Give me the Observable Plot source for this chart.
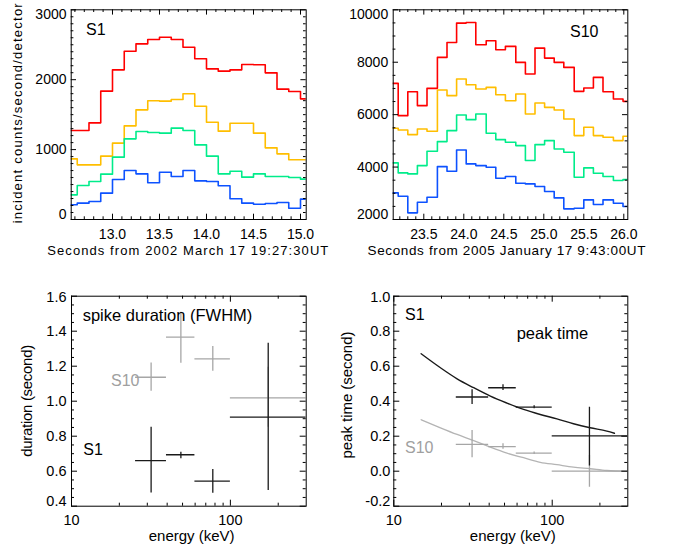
<!DOCTYPE html>
<html><head><meta charset="utf-8">
<script src="https://cdn.jsdelivr.net/npm/d3@7"></script>
<script src="https://cdn.jsdelivr.net/npm/@observablehq/plot@0.6"></script>
<style>
html,body{margin:0;padding:0;background:#fff;}
#root{position:relative;width:675px;height:548px;overflow:hidden;font-family:"Liberation Sans",Arial,Helvetica,sans-serif;background:#fff;}
#root > svg{position:absolute;}
</style></head><body><div id="root"></div>
<script>
// ---------- Top-left: S1 light curves (counts/s/detector), 0.125 s bins ----------
const tlEdges = [12.5,12.625,12.75,12.875,13.0,13.125,13.25,13.375,13.5,13.625,13.75,13.875,14.0,14.125,14.25,14.375,14.5,14.625,14.75,14.875,15.0,15.125];
const tlRed    = [1273,1273,1383,1836,2141,2408,2513,2575,2608,2575,2465,2299,2155,2122,2141,2217,2213,2098,1865,1831,1726];
const tlOrange = [868,782,782,906,1092,1340,1569,1698,1693,1717,1798,1621,1392,1264,1378,1378,1235,1025,939,854,854];
const tlGreen  = [353,486,544,649,892,1154,1259,1245,1235,1307,1273,1068,906,653,691,606,653,615,615,601,577];
const tlBlue   = [210,234,258,377,572,701,653,525,677,615,701,553,544,482,296,234,219,229,243,162,291];
const tlYTicks = [0,1000,2000,3000];
const tlXTicks = [13.0,13.5,14.0,14.5,15.0];

// ---------- Top-right: S10 light curves ----------
const trEdges = [23.06,23.18,23.30,23.42,23.54,23.67,23.79,23.91,24.03,24.15,24.28,24.40,24.52,24.65,24.77,24.89,25.01,25.13,25.25,25.38,25.50,25.62,25.74,25.87,25.99,26.11];
const trRed    = [7194,5962,6876,6343,7003,8184,8755,9492,9517,8666,8819,8476,8603,7994,7549,8539,8158,7994,7803,6889,7016,7422,6876,6597,6508];
const trOrange = [5479,5416,5238,5454,5365,6940,6724,7359,7143,6978,7041,6762,6533,6787,6025,6444,6279,6178,5835,5200,5517,5200,5137,5010,5175];
const trGreen  = [4159,3778,3740,4057,4603,4971,5390,5987,5809,6025,5289,5048,4946,4819,4248,4857,5010,4692,4565,3613,3968,3765,3638,3486,3524];
const trBlue   = [3016,2889,2254,2660,2851,4019,3841,4654,4121,4057,3994,3575,3638,3384,3359,3257,3067,2825,2406,2432,2749,2571,2749,2622,2495];
const trYTicks = [2000,4000,6000,8000,10000];
const trXTicks = [23.5,24.0,24.5,25.0,25.5,26.0];

// ---------- Bottom-left: spike duration (FWHM) ----------
const blE    = [31.7, 48.8, 77.5, 173];
const blElo  = [25.3, 39.6, 59.8, 100];
const blEhi  = [39.6, 59.8, 100, 300];
const blS1   = [0.661, 0.694, 0.543, 0.909];
const blS1lo = [0.476, 0.671, 0.474, 0.490];
const blS1hi = [0.851, 0.709, 0.610, 1.331];
const blS10   = [1.137, 1.366, 1.242, 1.019];
const blS10lo = [1.057, 1.217, 1.171, 0.851];
const blS10hi = [1.219, 1.509, 1.313, 1.194];
const blYTicks = [0.4,0.6,0.8,1.0,1.2,1.4,1.6];

// ---------- Bottom-right: peak time ----------
const brE    = [31.2, 48.9, 76.9, 171.8];
const brElo  = [24.8, 39.7, 59.3, 100];
const brEhi  = [39.7, 59.3, 100, 300];
const brS1   = [0.424, 0.477, 0.366, 0.202];
const brS1lo = [0.381, 0.461, 0.357, 0.030];
const brS1hi = [0.465, 0.494, 0.374, 0.366];
const brS10   = [0.153, 0.141, 0.103, 0.000];
const brS10lo = [0.077, 0.126, 0.095, -0.091];
const brS10hi = [0.233, 0.157, 0.110, 0.090];
const fitE1  = [14.88,19.70,25.09,31.92,40.68,51.83,65.96,84.02,107.1,136.2,173.5,221.2,247.0];
const fitS1  = [0.671,0.591,0.528,0.477,0.429,0.389,0.353,0.324,0.299,0.271,0.248,0.229,0.217];
const fitE10 = [14.88,19.70,25.09,31.92,40.68,51.83,65.96,84.02,107.1,136.2,173.5,221.2,300];
const fitS10 = [0.294,0.248,0.210,0.175,0.137,0.103,0.077,0.051,0.037,0.023,0.014,0.004,0.000];
const brYTicks = [-0.2,0.0,0.2,0.4,0.6,0.8,1.0];
const logXTicks = [10,100];

const COLORS = {red:"#ff0000", orange:"#ffbe00", green:"#00ec8a", blue:"#0d52ff"};
const GRAY = "#a6a6a6", BLACK = "#1a1a1a";

const root = document.getElementById("root");

function steps(edges, vals){
  const rows = vals.map((v,i)=>({t:edges[i], v}));
  rows.push({t:edges[vals.length], v:vals[vals.length-1]});
  return rows;
}
function crosses(E, lo, hi, V, vlo, vhi){
  return E.map((e,i)=>({e, elo:lo[i], ehi:hi[i], v:V[i], vlo:vlo[i], vhi:vhi[i]}));
}
function range(a,b,s){ const out=[]; for(let k=0;;k++){const v=+(a+k*s).toFixed(6); if(v>b+1e-9)break; out.push(v);} return out; }

function panel(o){
  const innerW = o.width - o.mL - o.mR, innerH = o.height - o.mT - o.mB;
  const yMinor = o.yMinor.filter(v=>!o.yTicks.some(t=>Math.abs(t-v)<1e-9));
  const xMinor = o.xMinor.filter(v=>!o.xTicks.some(t=>Math.abs(t-v)<1e-9));
  const yIn = o.yTicks.slice(1,-1), yTop=[o.yTicks[o.yTicks.length-1]], yBot=[o.yTicks[0]];
  const tickMarks = [
    Plot.tickY(o.yTicks, {y:d=>d, insetRight: innerW - o.majorLen, stroke:"black"}),
    Plot.tickY(o.yTicks, {y:d=>d, insetLeft: innerW - o.majorLen, stroke:"black"}),
    Plot.tickY(yMinor, {y:d=>d, insetRight: innerW - o.minorLen, stroke:"black"}),
    Plot.tickY(yMinor, {y:d=>d, insetLeft: innerW - o.minorLen, stroke:"black"}),
    Plot.tickX(o.xTicks, {x:d=>d, insetTop: innerH - o.majorLen, stroke:"black"}),
    Plot.tickX(o.xTicks, {x:d=>d, insetBottom: innerH - o.majorLen, stroke:"black"}),
    Plot.tickX(xMinor, {x:d=>d, insetTop: innerH - o.minorLen, stroke:"black"}),
    Plot.tickX(xMinor, {x:d=>d, insetBottom: innerH - o.minorLen, stroke:"black"}),
  ];
  const lab = [
    Plot.text(yIn, {y:d=>d, text:o.yFormat, frameAnchor:"left", textAnchor:"end", dx:-o.yPad, fontSize:o.yFont, fill:"black"}),
    Plot.text(yTop, {y:d=>d, text:o.yFormat, frameAnchor:"left", textAnchor:"end", dx:-o.yPad, dy:o.topShift, fontSize:o.yFont, fill:"black"}),
    Plot.text(yBot, {y:d=>d, text:o.yFormat, frameAnchor:"left", textAnchor:"end", dx:-o.yPad, dy:-o.botShift, fontSize:o.yFont, fill:"black"}),
    Plot.text(o.xTicks, {x:d=>d, text:o.xFormat, frameAnchor:"bottom", lineAnchor:"top", dy:o.xPad, fontSize:o.xFont, fill:"black"}),
  ];
  const svg = Plot.plot({
    width:o.width, height:o.height,
    marginLeft:o.mL, marginRight:o.mR, marginTop:o.mT, marginBottom:o.mB,
    x:{type:o.xType||"linear", domain:o.xDomain, axis:null},
    y:{domain:o.yDomain, axis:null},
    style:{fontFamily:'"Liberation Sans", Arial, Helvetica, sans-serif', fontSize:"14px", color:"black", background:"transparent", overflow:"visible"},
    marks:[...o.marks, ...tickMarks, ...lab, Plot.frame({stroke:"black", strokeWidth:1})]
  });
  svg.style.left = o.left+"px"; svg.style.top = o.top+"px";
  root.appendChild(svg);
}

function stepMarks(edges, series){
  return series.map(([vals,color])=>Plot.line(steps(edges, vals), {x:"t", y:"v", stroke:color, strokeWidth:1.6, curve:"step-after", clip:true}));
}
function crossMarks(rows, color, sw){
  return [
    Plot.ruleY(rows, {y:"v", x1:"elo", x2:"ehi", stroke:color, strokeWidth:sw, clip:true}),
    Plot.ruleX(rows, {x:"e", y1:"vlo", y2:"vhi", stroke:color, strokeWidth:sw, clip:true}),
  ];
}

// Top-left
panel({left:0, top:0, width:340, height:270, mL:70.7, mR:34.3, mT:9.3, mB:51,
  xDomain:[12.5607,15.0606], yDomain:[0,3000],
  yTicks:tlYTicks, yMinor:range(0,3000,100), xTicks:tlXTicks, xMinor:range(12.6,15.0,0.1),
  yFormat:d=>String(d), xFormat:d=>d.toFixed(1), yFont:14, xFont:14, yPad:4.7, xPad:10, topShift:4.5, botShift:4.5,
  majorLen:5.3, minorLen:2.7,
  marks: stepMarks(tlEdges, [[tlRed,COLORS.red],[tlOrange,COLORS.orange],[tlGreen,COLORS.green],[tlBlue,COLORS.blue]])
});
// Top-right
panel({left:335, top:0, width:340, height:270, mL:57.7, mR:47.7, mT:9.3, mB:51,
  xDomain:[23.1175,26.05], yDomain:[2000,10000],
  yTicks:trYTicks, yMinor:range(2000,10000,500), xTicks:trXTicks, xMinor:range(23.2,26.0,0.1),
  yFormat:d=>String(d), xFormat:d=>d.toFixed(1), yFont:14, xFont:14, yPad:5, xPad:10, topShift:4.5, botShift:4.5,
  majorLen:5.3, minorLen:2.7,
  marks: stepMarks(trEdges, [[trRed,COLORS.red],[trOrange,COLORS.orange],[trGreen,COLORS.green],[trBlue,COLORS.blue]])
});
// Bottom-left
panel({left:0, top:270, width:340, height:278, mL:71, mR:34.3, mT:25.7, mB:42.3,
  xType:"log", xDomain:[10,300], yDomain:[0.4,1.6],
  yTicks:blYTicks, yMinor:range(0.4,1.6,0.05), xTicks:logXTicks, xMinor:[20,30,40,50,60,70,80,90,200],
  yFormat:d=>d.toFixed(1), xFormat:d=>String(d), yFont:14.5, xFont:14.5, yPad:5, xPad:8.5, topShift:1.5, botShift:5,
  majorLen:6, minorLen:3,
  marks:[...crossMarks(crosses(blE,blElo,blEhi,blS10,blS10lo,blS10hi), GRAY, 1.3),
         ...crossMarks(crosses(blE,blElo,blEhi,blS1,blS1lo,blS1hi), BLACK, 1.3)]
});
// Bottom-right
panel({left:335, top:270, width:340, height:278, mL:58.3, mR:47.7, mT:25.7, mB:42.3,
  xType:"log", xDomain:[10,300], yDomain:[-0.2,1.0],
  yTicks:brYTicks, yMinor:range(-0.2,1.0,0.05), xTicks:logXTicks, xMinor:[20,30,40,50,60,70,80,90,200],
  yFormat:d=>d.toFixed(1), xFormat:d=>String(d), yFont:14.5, xFont:14.5, yPad:3.5, xPad:8.5, topShift:1.5, botShift:5,
  majorLen:6, minorLen:3,
  marks:[
    Plot.line(fitE10.map((e,i)=>({e, v:fitS10[i]})), {x:"e", y:"v", stroke:"#b4b4b4", strokeWidth:1.3, curve:"monotone-x", clip:true}),
    ...crossMarks(crosses(brE,brElo,brEhi,brS10,brS10lo,brS10hi), GRAY, 1.3),
    Plot.line(fitE1.map((e,i)=>({e, v:fitS1[i]})), {x:"e", y:"v", stroke:BLACK, strokeWidth:1.4, curve:"monotone-x", clip:true}),
    ...crossMarks(crosses(brE,brElo,brEhi,brS1,brS1lo,brS1hi), BLACK, 1.3)]
});

// ---------- Overlay: titles and annotations ----------
const NS = "http://www.w3.org/2000/svg";
const ov = document.createElementNS(NS,"svg");
ov.setAttribute("width",675); ov.setAttribute("height",548);
ov.style.left="0px"; ov.style.top="0px"; ov.style.pointerEvents="none";
ov.setAttribute("font-family",'"Liberation Sans", Arial, Helvetica, sans-serif');
root.appendChild(ov);
function T(x,y,str,{size=14, fill="black", anchor="start", len=null, rot=false}={}){
  const t = document.createElementNS(NS,"text");
  if(rot){ t.setAttribute("transform",`translate(${x},${y}) rotate(-90)`); }
  else { t.setAttribute("x",x); t.setAttribute("y",y); }
  t.setAttribute("font-size",size); t.setAttribute("fill",fill); t.setAttribute("text-anchor",anchor);
  if(len){ t.setAttribute("textLength",len); t.setAttribute("lengthAdjust","spacing"); }
  t.textContent = str; ov.appendChild(t);
}
T(187.8, 254.5, "Seconds from 2002 March 17 19:27:30UT", {size:13, anchor:"middle", len:281});
T(506.5, 254.5, "Seconds from 2005 January 17 9:43:00UT", {size:13.5, anchor:"middle", len:278});
T(22, 113.3, "incident counts/second/detector", {size:13, anchor:"middle", len:220, rot:true});
T(31.5, 400.8, "duration (second)", {size:15, anchor:"middle", len:112, rot:true});
T(351.7, 395, "peak time (second)", {size:15, anchor:"middle", len:127, rot:true});
T(191.7, 541, "energy (keV)", {size:15, anchor:"middle"});
T(512.8, 541, "energy (keV)", {size:15, anchor:"middle"});
T(86, 35, "S1", {size:16});
T(570, 36.7, "S10", {size:16});
T(82.7, 321, "spike duration (FWHM)", {size:16.5});
T(111, 386, "S10", {size:16, fill:"#a0a0a0"});
T(83.3, 455, "S1", {size:16});
T(405, 320, "S1", {size:16});
T(516.7, 338.5, "peak time", {size:16.5});
T(405, 453, "S10", {size:16, fill:"#a0a0a0"});
</script>
</body></html>
